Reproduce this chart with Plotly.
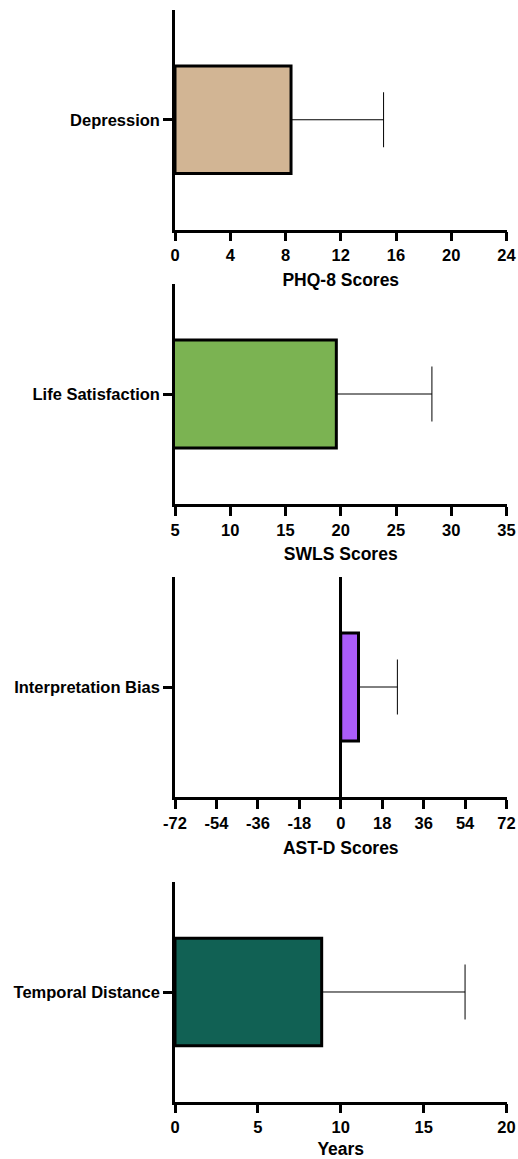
import plotly.graph_objects as go

categories = ["Depression", "Life Satisfaction", "Interpretation Bias", "Temporal Distance"]
means = [8.4, 19.6, 7.7, 8.85]
sds = [6.7, 8.65, 16.9, 8.65]
axis_titles = ["PHQ-8 Scores", "SWLS Scores", "AST-D Scores", "Years"]
x_ranges = [[0, 24], [5, 35], [-72, 72], [0, 20]]
tick_values = [
    [0, 4, 8, 12, 16, 20, 24],
    [5, 10, 15, 20, 25, 30, 35],
    [-72, -54, -36, -18, 0, 18, 36, 54, 72],
    [0, 5, 10, 15, 20],
]
tick_labels = [
    ["0", "4", "8", "12", "16", "20", "24"],
    ["5", "10", "15", "20", "25", "30", "35"],
    ["-72", "-54", "-36", "-18", "0", "18", "36", "54", "72"],
    ["0", "5", "10", "15", "20"],
]
colors = ["#D2B594", "#7BB352", "#AB5CFA", "#116154"]

H = 1159
W = 518
# panel pixel extents (top, bottom) of plot area
panels_px = [(10, 229.5), (284, 504), (576.7, 797.3), (882.3, 1101.7)]
x_px = (175, 506.5)

font_family = "Liberation Sans, Arial, sans-serif"

fig = go.Figure()
layout = dict(
    width=W, height=H,
    margin=dict(l=0, r=0, t=0, b=0, autoexpand=False),
    paper_bgcolor="white", plot_bgcolor="white",
    showlegend=False,
    font=dict(family=font_family, color="black", size=16.5, weight="bold"),
)

for i in range(4):
    xa = "x" if i == 0 else f"x{i+1}"
    ya = "y" if i == 0 else f"y{i+1}"
    fig.add_trace(go.Bar(
        x=[means[i]], y=[categories[i]], orientation="h",
        marker=dict(color=colors[i], line=dict(color="black", width=3)),
        width=0.98,
        error_x=dict(type="data", array=[sds[i]], arrayminus=[0], symmetric=False,
                     color="black", thickness=1, width=27.5),
        xaxis=xa, yaxis=ya,
    ))
    top, bot = panels_px[i]
    ydom = [1 - bot / H, 1 - top / H]
    xdom = [x_px[0] / W, x_px[1] / W]
    xkey = "xaxis" if i == 0 else f"xaxis{i+1}"
    ykey = "yaxis" if i == 0 else f"yaxis{i+1}"
    layout[xkey] = dict(
        domain=xdom, anchor=ya, range=x_ranges[i],
        tickmode="array", tickvals=tick_values[i], ticktext=tick_labels[i],
        showgrid=False, zeroline=(i == 2), zerolinecolor="black", zerolinewidth=2.5,
        showline=True, linecolor="black", linewidth=2.5,
        ticks="outside", ticklen=9, tickwidth=2.5, tickcolor="black",
        tickfont=dict(size=16.5, weight="bold", family=font_family, color="black"),
        title=dict(text=axis_titles[i], standoff=11,
                   font=dict(size=17.5, weight="bold", family=font_family, color="black")),
        fixedrange=True,
    )
    layout[ykey] = dict(
        domain=ydom, anchor=xa, range=[-1, 1], type="category",
        showgrid=False, zeroline=False,
        showline=True, linecolor="black", linewidth=2.5,
        ticks="outside", ticklen=9, tickwidth=2.5, tickcolor="black",
        tickfont=dict(size=16.5, weight="bold", family=font_family, color="black"),
        fixedrange=True,
    )

fig.update_layout(**layout)
fig.write_html("out.html", config={"displayModeBar": False},
               post_script="document.body.style.margin='0';document.body.style.overflow='hidden';")
